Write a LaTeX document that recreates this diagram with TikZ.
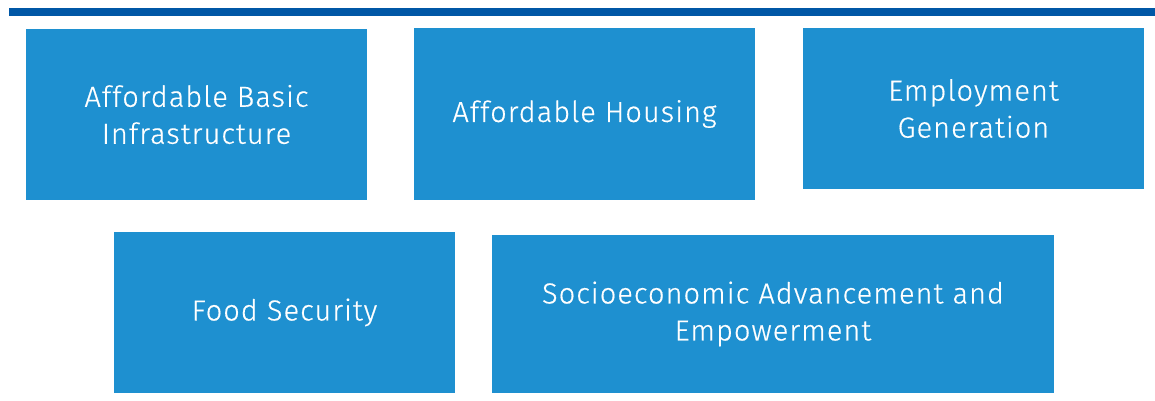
\documentclass[tikz,border=0pt]{standalone}
\usepackage{fontspec}
\setmainfont{Fira Sans}[UprightFont=* Light,LetterSpace=3.5,FakeBold=0.5]
\definecolor{boxblue}{RGB}{30,144,208}
\definecolor{barblue}{RGB}{0,87,166}
\begin{document}
\begin{tikzpicture}[x=1pt,y=-1pt,
  tile/.style={fill=boxblue,draw=none,inner sep=0pt,text=white,align=center,
    font=\fontsize{29}{37}\selectfont},
]
\useasboundingbox (0,0) rectangle (1155,401);
\fill[barblue] (9,8) rectangle (1155,16);
\node[tile,minimum width=341pt,minimum height=171pt] (abi) at (196.5,114.5) {Affordable Basic\\Infrastructure};
\node[tile,minimum width=341pt,minimum height=172pt] (ah) at (584.5,114) {Affordable Housing};
\node[tile,minimum width=341pt,minimum height=161pt] (eg) at (973.5,108.5) {Employment\\Generation};
\node[tile,minimum width=341pt,minimum height=161pt] (fs) at (284.5,312.5) {Food Security};
\node[tile,minimum width=562pt,minimum height=158pt] (sae) at (773,314) {Socioeconomic Advancement and\\Empowerment};
\end{tikzpicture}
\end{document}
